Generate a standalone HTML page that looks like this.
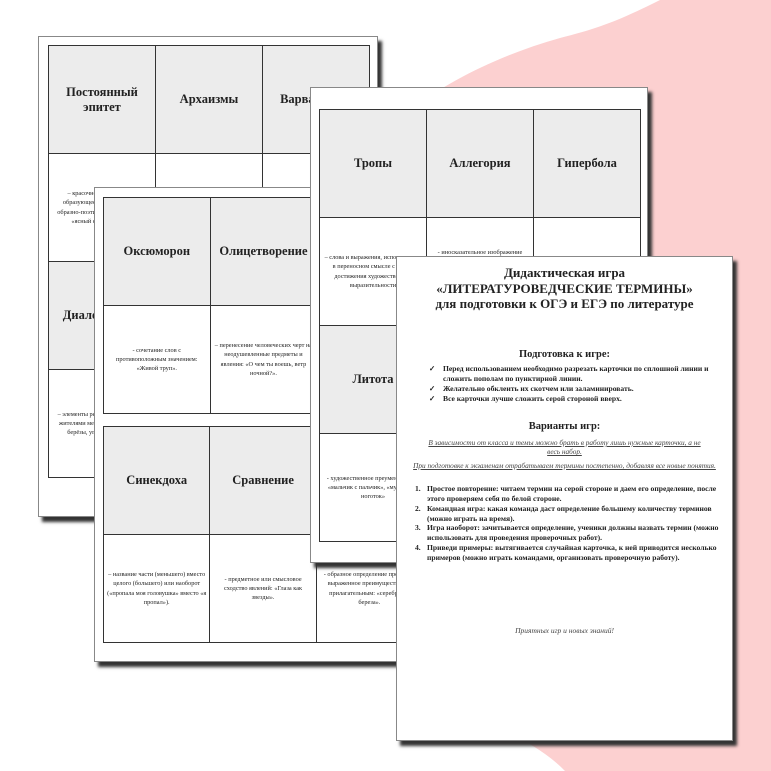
<!DOCTYPE html>
<html><head><meta charset="utf-8"><style>
*{margin:0;padding:0;box-sizing:border-box}
body{width:771px;height:771px;background:#fff;position:relative;overflow:hidden;font-family:"Liberation Serif","DejaVu Serif",serif;color:#222}
.pg{position:absolute;background:#fff;border:1px solid #888;box-shadow:4px 5px 3px #333;overflow:hidden}
.t{position:absolute;border-collapse:collapse;table-layout:fixed}
.t td{border:1.5px solid #333;width:107px;text-align:center;vertical-align:middle;padding:3px}
.h{background:#ececec;height:108px;font-weight:bold;font-size:12.5px}
.d{height:108px;font-size:6.3px;line-height:1.45}
.p4{font-size:7.6px;font-weight:bold;line-height:1.3}
</style></head><body>
<svg style="position:absolute;left:0;top:0" width="771" height="771"><path d="M660,0 C620,20 600,28 560,38 C500,55 450,80 410,110 L410,700 C470,715 530,735 565,771 L771,771 L771,0 Z" fill="#fcd0d0"/></svg>

<div class="pg" style="left:38px;top:36px;width:340px;height:481px">
<table class="t" style="left:9px;top:8px">
<tr><td class="h">Постоянный эпитет</td><td class="h">Архаизмы</td><td class="h">Варваризмы</td></tr>
<tr><td class="d">– красочное определение, образующее с определяемым образно-поэтическое выражение: «ясный сокол», «утро»</td><td class="d"></td><td class="d"></td></tr>
<tr><td class="h">Диалектизмы</td><td class="h"></td><td class="h"></td></tr>
<tr><td class="d">– элементы речи, местный говор, жителями местности: туфельки, берёзы, угрюмый человек</td><td class="d"></td><td class="d"></td></tr>
</table></div>

<div class="pg" style="left:94px;top:187px;width:330px;height:475px">
<table class="t" style="left:8px;top:9px">
<tr><td class="h">Оксюморон</td><td class="h">Олицетворение</td><td class="h"></td></tr>
<tr><td class="d">- сочетание слов с противоположным значением: «Живой труп».</td><td class="d">– перенесение человеческих черт на неодушевленные предметы и явления: «О чем ты воешь, ветр ночной?».</td><td class="d"></td></tr>
</table>
<table class="t" style="left:8px;top:238px">
<tr><td class="h">Синекдоха</td><td class="h">Сравнение</td><td class="h"></td></tr>
<tr><td class="d">– название части (меньшего) вместо целого (большего) или наоборот («пропала моя головушка» вместо «я пропал»).</td><td class="d">- предметное или смысловое сходство явлений: «Глаза как звезды».</td><td class="d">- образное определение предмета, выраженное преимущественно прилагательным: «серебряная береза».</td></tr>
</table></div>

<div class="pg" style="left:310px;top:87px;width:338px;height:476px">
<table class="t" style="left:8px;top:21px">
<tr><td class="h">Тропы</td><td class="h">Аллегория</td><td class="h">Гипербола</td></tr>
<tr><td class="d">– слова и выражения, используемые в переносном смысле с целью достижения художественной выразительности</td><td class="d" style="vertical-align:top;padding-top:30px">- иносказательное изображение</td><td class="d"></td></tr>
<tr><td class="h">Литота</td><td class="h"></td><td class="h"></td></tr>
<tr><td class="d">- художественное преуменьшение: «мальчик с пальчик», «мужичок с ноготок»</td><td class="d"></td><td class="d"></td></tr>
</table></div>

<div class="pg" style="left:396px;top:256px;width:337px;height:485px">
<div style="position:absolute;left:0;width:335px;top:8px;text-align:center;font-weight:bold;font-size:13px;line-height:15.5px">Дидактическая игра<br>«ЛИТЕРАТУРОВЕДЧЕСКИЕ ТЕРМИНЫ»<br>для подготовки к ОГЭ и ЕГЭ по литературе</div>
<div style="position:absolute;left:0;width:335px;top:92px;text-align:center;font-weight:bold;font-size:10.5px">Подготовка к игре:</div>
<div class="p4" style="position:absolute;left:32px;top:107px;width:290px">
<div style="position:relative;padding-left:14px"><span style="position:absolute;left:0">✓</span>Перед использованием необходимо разрезать карточки по сплошной линии и сложить пополам по пунктирной линии.</div>
<div style="position:relative;padding-left:14px"><span style="position:absolute;left:0">✓</span>Желательно обклеить их скотчем или заламинировать.</div>
<div style="position:relative;padding-left:14px"><span style="position:absolute;left:0">✓</span>Все карточки лучше сложить серой стороной вверх.</div></div>
<div style="position:absolute;left:0;width:335px;top:164px;text-align:center;font-weight:bold;font-size:10.5px">Варианты игр:</div>
<div style="position:absolute;left:25px;width:285px;top:181px;text-align:center;font-style:italic;text-decoration:underline;font-size:7.3px;line-height:1.3;color:#444">В зависимости от класса и темы можно брать в работу лишь нужные карточки, а не весь набор.</div>
<div style="position:absolute;left:15px;width:305px;top:204px;text-align:center;font-style:italic;text-decoration:underline;font-size:7.3px;line-height:1.3;color:#444">При подготовке к экзаменам отрабатываем термины постепенно, добавляя все новые понятия.</div>
<div class="p4" style="position:absolute;left:18px;top:227px;width:315px">
<div style="position:relative;padding-left:12px"><span style="position:absolute;left:0">1.</span>Простое повторение: читаем термин на серой стороне и даем его определение, после этого проверяем себя по белой стороне.</div>
<div style="position:relative;padding-left:12px"><span style="position:absolute;left:0">2.</span>Командная игра: какая команда даст определение большему количеству терминов (можно играть на время).</div>
<div style="position:relative;padding-left:12px"><span style="position:absolute;left:0">3.</span>Игра наоборот: зачитывается определение, ученики должны назвать термин (можно использовать для проведения проверочных работ).</div>
<div style="position:relative;padding-left:12px"><span style="position:absolute;left:0">4.</span>Приведи примеры: вытягивается случайная карточка, к ней приводится несколько примеров (можно играть командами, организовать проверочную работу).</div></div>
<div style="position:absolute;left:0;width:335px;top:369px;text-align:center;font-style:italic;font-size:7.5px;color:#444">Приятных игр и новых знаний!</div>
</div>
</body></html>
